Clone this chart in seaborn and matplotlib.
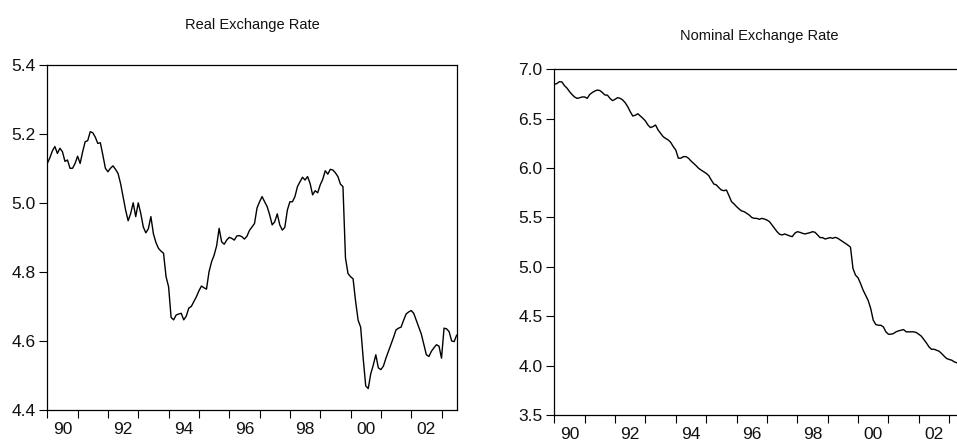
import numpy as np
import pandas as pd
import matplotlib
matplotlib.use("Agg")
import matplotlib.pyplot as plt
import seaborn as sns

# Monthly data, 1990M01 .. 2003M07
real_rate = [
    5.114, 5.130, 5.150, 5.163, 5.143, 5.158, 5.148, 5.120, 5.124, 5.100, 5.100, 5.114,
    5.135, 5.114, 5.148, 5.177, 5.180, 5.206, 5.203, 5.190, 5.172, 5.174, 5.138, 5.100,
    5.090, 5.100, 5.107, 5.097, 5.085, 5.056, 5.018, 4.979, 4.948, 4.969, 5.000, 4.960,
    5.000, 4.969, 4.930, 4.913, 4.925, 4.960, 4.910, 4.885, 4.868, 4.860, 4.854, 4.786,
    4.757, 4.668, 4.661, 4.675, 4.678, 4.680, 4.661, 4.672, 4.695, 4.700, 4.714, 4.728,
    4.745, 4.759, 4.754, 4.750, 4.800, 4.829, 4.848, 4.875, 4.926, 4.887, 4.880, 4.892,
    4.900, 4.897, 4.892, 4.904, 4.905, 4.902, 4.895, 4.903, 4.920, 4.930, 4.940, 4.985,
    5.003, 5.018, 5.003, 4.989, 4.965, 4.936, 4.945, 4.968, 4.936, 4.921, 4.929, 4.979,
    5.003, 5.003, 5.018, 5.047, 5.061, 5.074, 5.066, 5.076, 5.056, 5.023, 5.035, 5.029,
    5.052, 5.068, 5.093, 5.083, 5.097, 5.095, 5.087, 5.076, 5.054, 5.047, 4.840, 4.795,
    4.786, 4.780, 4.715, 4.660, 4.640, 4.550, 4.470, 4.462, 4.505, 4.530, 4.560, 4.522,
    4.517, 4.527, 4.550, 4.570, 4.590, 4.610, 4.632, 4.637, 4.640, 4.660, 4.678, 4.684,
    4.688, 4.680, 4.660, 4.640, 4.620, 4.590, 4.560, 4.555, 4.570, 4.580, 4.589, 4.585,
    4.550, 4.637, 4.635, 4.627, 4.600, 4.598, 4.617,
]

nominal_rate = [
    6.848, 6.855, 6.875, 6.872, 6.835, 6.810, 6.775, 6.745, 6.720, 6.706, 6.712, 6.720,
    6.720, 6.706, 6.745, 6.765, 6.780, 6.790, 6.785, 6.765, 6.740, 6.738, 6.706, 6.683,
    6.696, 6.713, 6.706, 6.690, 6.662, 6.622, 6.571, 6.527, 6.535, 6.550, 6.527, 6.504,
    6.477, 6.436, 6.410, 6.420, 6.436, 6.386, 6.352, 6.318, 6.300, 6.285, 6.260, 6.217,
    6.183, 6.100, 6.100, 6.116, 6.116, 6.100, 6.072, 6.048, 6.025, 5.998, 5.980, 5.964,
    5.947, 5.924, 5.880, 5.839, 5.830, 5.802, 5.778, 5.771, 5.778, 5.721, 5.660, 5.637,
    5.610, 5.586, 5.566, 5.559, 5.542, 5.525, 5.500, 5.491, 5.491, 5.481, 5.491, 5.484,
    5.474, 5.458, 5.424, 5.390, 5.356, 5.330, 5.323, 5.333, 5.323, 5.313, 5.306, 5.340,
    5.356, 5.350, 5.340, 5.333, 5.340, 5.346, 5.356, 5.350, 5.323, 5.296, 5.296, 5.282,
    5.289, 5.296, 5.289, 5.299, 5.289, 5.272, 5.255, 5.238, 5.220, 5.200, 4.983, 4.916,
    4.889, 4.830, 4.764, 4.713, 4.660, 4.578, 4.460, 4.416, 4.409, 4.409, 4.392, 4.342,
    4.318, 4.318, 4.325, 4.342, 4.352, 4.359, 4.365, 4.342, 4.342, 4.342, 4.342, 4.335,
    4.318, 4.298, 4.264, 4.230, 4.190, 4.166, 4.166, 4.156, 4.146, 4.123, 4.096, 4.072,
    4.062, 4.055, 4.038, 4.028, 4.020, 4.015, 4.010,
]

start_year = 1990
years = list(range(1990, 2004))
year_labels = ["90", "92", "94", "96", "98", "00", "02"]
real_yticks = [4.4, 4.6, 4.8, 5.0, 5.2, 5.4]
nominal_yticks = [3.5, 4.0, 4.5, 5.0, 5.5, 6.0, 6.5, 7.0]

t = [start_year + i / 12 for i in range(len(real_rate))]
df = pd.DataFrame({"t": t, "real": real_rate, "nominal": nominal_rate})

sns.set_style("ticks")
plt.rcParams["font.family"] = ["Liberation Sans", "DejaVu Sans"]

fig = plt.figure(figsize=(9.57, 4.44), dpi=100)
ax1 = fig.add_axes([0.0494, 0.0766, 0.4278, 0.7777])
ax2 = fig.add_axes([0.5792, 0.0653, 0.4285, 0.7786])

sns.lineplot(data=df, x="t", y="real", ax=ax1, color="black", linewidth=1.0)
sns.lineplot(data=df, x="t", y="nominal", ax=ax2, color="black", linewidth=1.0)

def style(ax, yticks, ylim, title, pad):
    ax.set_xlim(1990, 2003.5)
    ax.set_ylim(*ylim)
    ax.set_yticks(yticks)
    ax.set_yticklabels([f"{v:.1f}" for v in yticks])
    ax.set_xticks(years)
    ax.set_xticklabels([])
    ax.set_xticks([y + 0.5 for y in years[::2]], minor=True)
    ax.set_xticklabels(year_labels, minor=True)
    ax.tick_params(axis="x", which="major", length=6, width=0.8, direction="out", color="black")
    ax.tick_params(axis="x", which="minor", length=0, labelsize=12.5, pad=8.5, labelcolor="#111111")
    ax.tick_params(axis="y", length=5.5, width=0.8, direction="out", labelsize=12.5, pad=3,
                   color="black", labelcolor="#111111")
    for s in ax.spines.values():
        s.set_visible(True)
        s.set_color("black")
        s.set_linewidth(0.9)
    ax.set_xlabel("")
    ax.set_ylabel("")
    ax.set_title(title, fontsize=10.5, pad=pad, color="#111111")

style(ax1, real_yticks, (4.4, 5.4), "Real Exchange Rate", 26)
style(ax2, nominal_yticks, (3.5, 7.0), "Nominal Exchange Rate", 21)

fig.savefig("out.png", dpi=100)
